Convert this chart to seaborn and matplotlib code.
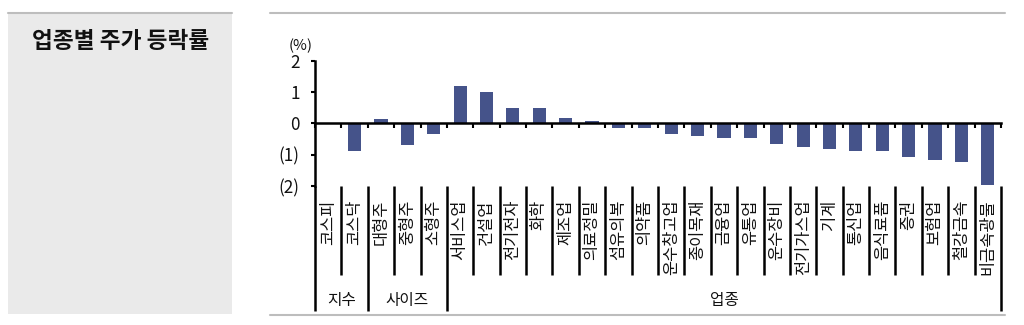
import matplotlib
matplotlib.use("Agg")
import matplotlib.pyplot as plt
import matplotlib.transforms as mtransforms
from matplotlib.patches import Rectangle
from matplotlib.lines import Line2D
import seaborn as sns
import pandas as pd
import numpy as np

# ---- data ----
categories = ["코스피", "코스닥", "대형주", "중형주", "소형주",
              "서비스업", "건설업", "전기전자", "화학", "제조업", "의료정밀",
              "섬유의복", "의약품", "운수창고업", "종이목재", "금융업", "유통업",
              "운수장비", "전기가스업", "기계", "통신업", "음식료품", "증권",
              "보험업", "철강금속", "비금속광물"]
values = [0.0, -0.88, 0.13, -0.70, -0.34,
          1.19, 1.01, 0.48, 0.48, 0.18, 0.08,
          -0.16, -0.15, -0.34, -0.41, -0.47, -0.47,
          -0.65, -0.76, -0.83, -0.88, -0.88, -1.06,
          -1.17, -1.24, -1.96]
groups = ["지수", "사이즈", "업종"]
group_sizes = [2, 3, 21]
yticks = [-2, -1, 0, 1, 2]
ytick_labels = ["(2)", "(1)", "0", "1", "2"]
title = "업종별 주가 등락률"
unit = "(%)"

bar_color = "#45538A"

sns.set_theme(style="white")
plt.rcParams['font.family'] = ['Noto Sans CJK KR', 'DejaVu Sans']

W, H = 1024, 325
fig = plt.figure(figsize=(W / 100, H / 100), dpi=100)
fig.patch.set_facecolor("white")

# left title panel
fig.patches.append(Rectangle((8 / W, 1 - 314 / H), 224 / W, 302 / H,
                             transform=fig.transFigure, facecolor="#EAEAEA",
                             edgecolor="none", zorder=0))
fig.lines.append(Line2D([8 / W, 232 / W], [1 - 12.5 / H] * 2, transform=fig.transFigure,
                        color="#BDBDBD", lw=1.5))
fig.text(120.5 / W, 1 - 41 / H, title, ha="center", va="center",
         fontsize=16.3, fontweight="bold", color="#111111")

# frame lines around chart
fig.lines.append(Line2D([270 / W, 1005 / W], [1 - 12.5 / H] * 2, transform=fig.transFigure,
                        color="#BDBDBD", lw=1.5))
fig.lines.append(Line2D([270 / W, 1005 / W], [1 - 315 / H] * 2, transform=fig.transFigure,
                        color="#BDBDBD", lw=1.5))

# main axes
ax = fig.add_axes([315 / W, 1 - 186 / H, (1001 - 315) / W, (186 - 61) / H])
df = pd.DataFrame({"cat": categories, "val": values})
sns.barplot(data=df, x="cat", y="val", color=bar_color, saturation=1,
            width=0.5, linewidth=0, ax=ax)

ax.set_xlabel("")
ax.set_ylabel("")
for s in ["top", "right"]:
    ax.spines[s].set_visible(False)
ax.spines["bottom"].set_position(("data", 0))
ax.spines["bottom"].set_linewidth(1.8)
ax.spines["bottom"].set_color("black")
ax.spines["left"].set_linewidth(1.8)
ax.spines["left"].set_color("black")

n = len(categories)
ax.set_xticks(np.arange(-0.5, n, 1.0))
ax.set_xticklabels([])
ax.tick_params(axis="x", bottom=True, direction="out", length=3.5, width=1.5, color="black")
ax.set_yticks(yticks)
ax.set_yticklabels(ytick_labels, fontsize=12.3, color="#111111")
ax.tick_params(axis="y", left=True, direction="out", length=3, width=1.5, color="black", pad=8)
ax.grid(False)

ax.text(-0.0204, 1.12, unit, transform=ax.transAxes, ha="center", va="center",
        fontsize=10.8, color="#111111")

# category label area
trans = mtransforms.blended_transform_factory(ax.transData, ax.transAxes)
edges = np.cumsum([0] + group_sizes) - 0.5
for b in np.arange(-0.5, n, 1.0):
    long = np.any(np.isclose(edges, b))
    ybot = -1.0 if long else -0.712
    ax.plot([b, b], [0, ybot], transform=trans, clip_on=False, color="black", lw=1.8,
            solid_capstyle="butt")
for i, c in enumerate(categories):
    ax.text(i, -0.11, c, transform=trans, rotation=90, ha="center", va="top",
            fontsize=11.8, color="#111111", clip_on=False)
for g, a, b in zip(groups, edges[:-1], edges[1:]):
    ax.text((a + b) / 2, -0.912, g, transform=trans, ha="center", va="center",
            fontsize=11.3, color="#111111", clip_on=False)

ax.set_xlim(-0.5, n - 0.5)
ax.set_ylim(-2, 2)

fig.savefig("out.png", dpi=100)
